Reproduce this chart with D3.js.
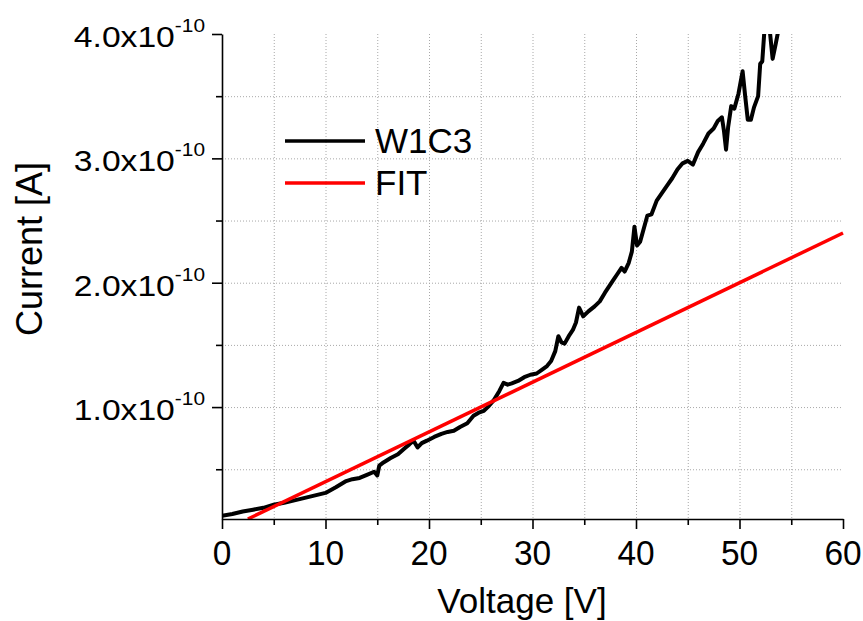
<!DOCTYPE html>
<html>
<head>
<meta charset="utf-8">
<script src="https://cdn.jsdelivr.net/npm/d3@7"></script>
<style>
  html, body { margin: 0; padding: 0; background: #fff; }
  svg { display: block; font-family: Arial, "Liberation Sans", Helvetica, sans-serif; }
</style>
</head>
<body>
<svg id="chart" width="863" height="621"></svg>
<script>
// Measured I-V sweep of device W1C3 (voltage in V, current in units of 1e-10 A)
const voltage = [0, 1, 2, 3, 4, 5, 6, 7, 8, 9, 10, 11, 12, 12.6, 13.3, 14, 14.7, 15.0, 15.2, 15.6,
  16.3, 17, 17.6, 18.1, 18.5, 18.9, 19.3, 19.8, 20.5, 21.2, 21.8, 22.4, 23.0, 23.7, 24.3, 24.8,
  25.3, 25.8, 26.3, 26.8, 27.2, 27.6, 28.0, 28.6, 29.2, 29.8, 30.4, 30.9, 31.4, 31.8, 32.2, 32.5,
  32.8, 33.1, 33.5, 33.9, 34.2, 34.5, 34.9, 35.4, 36.0, 36.5, 37.0, 37.4, 37.8, 38.2, 38.6, 38.9,
  39.3, 39.6, 39.85, 40.1, 40.4, 40.7, 41.1, 41.5, 42.0, 42.5, 43.0, 43.5, 44.0, 44.5, 45.0, 45.5,
  46.0, 46.5, 47.0, 47.5, 47.9, 48.3, 48.5, 48.7, 48.9, 49.2, 49.5, 49.9, 50.3, 50.55, 50.8, 51.1,
  51.4, 51.8, 52.0, 52.2, 52.4, 52.6, 52.9, 53.2, 53.5, 53.8];
const currentW1C3 = [0.125, 0.14, 0.16, 0.175, 0.19, 0.215, 0.23, 0.25, 0.27, 0.29, 0.31, 0.355, 0.405, 0.42, 0.43, 0.455, 0.48, 0.45, 0.53, 0.555,
  0.59, 0.62, 0.665, 0.70, 0.73, 0.675, 0.71, 0.73, 0.76, 0.785, 0.80, 0.81, 0.84, 0.87, 0.93, 0.955,
  0.97, 1.01, 1.06, 1.13, 1.195, 1.18, 1.19, 1.21, 1.24, 1.26, 1.27, 1.30, 1.33, 1.37, 1.45, 1.57,
  1.52, 1.51, 1.57, 1.62, 1.68, 1.80, 1.73, 1.77, 1.81, 1.85, 1.92, 1.97, 2.02, 2.07, 2.12, 2.09,
  2.16, 2.25, 2.45, 2.30, 2.33, 2.42, 2.54, 2.55, 2.66, 2.72, 2.78, 2.84, 2.91, 2.96, 2.98, 2.95,
  3.05, 3.12, 3.20, 3.24, 3.30, 3.33, 3.22, 3.07, 3.25, 3.42, 3.40, 3.52, 3.70, 3.50, 3.31, 3.31,
  3.41, 3.50, 3.76, 3.78, 4.02, 4.05, 4.05, 3.80, 3.92, 4.05];

// Linear fit I = 4.0e-12 * V
const fitVoltage = [2.5, 60];
const fitCurrent = [0.10, 2.40];

const seriesNames = ["W1C3", "FIT"];
const seriesColors = ["#000000", "#ff0000"];

const xMajorTicks = [0, 10, 20, 30, 40, 50, 60];
const xMinorTicks = [5, 15, 25, 35, 45, 55];
const yMajorTicks = [1.0, 2.0, 3.0, 4.0];
const yMinorTicks = [0.5, 1.5, 2.5, 3.5];
const yTickLabels = ["1.0x10", "2.0x10", "3.0x10", "4.0x10"];
const yTickExponent = "-10";

const xTitle = "Voltage [V]";
const yTitle = "Current [A]";

const svg = d3.select("#chart");
const plotLeft = 222, plotRight = 843, plotTop = 34, plotBottom = 519;

const x = d3.scaleLinear().domain([0, 60]).range([plotLeft, plotRight]);
const y = d3.scaleLinear().domain([0.1, 4.0]).range([plotBottom, plotTop]);

// dotted grid at every major and minor tick
const grid = svg.append("g").attr("stroke", "#a8a8a8").attr("stroke-width", 1)
  .attr("stroke-dasharray", "1,2").attr("fill", "none");
xMinorTicks.concat(xMajorTicks.filter(v => v > 0 && v < 60)).forEach(v => {
  grid.append("line").attr("x1", x(v) + 0.5).attr("x2", x(v) + 0.5).attr("y1", plotTop).attr("y2", plotBottom);
});
yMinorTicks.concat(yMajorTicks.filter(v => v < 4.0)).forEach(v => {
  grid.append("line").attr("x1", plotLeft).attr("x2", plotRight).attr("y1", y(v) + 0.5).attr("y2", y(v) + 0.5);
});

// clip region for the data lines
svg.append("defs").append("clipPath").attr("id", "plotClip")
  .append("rect").attr("x", plotLeft).attr("y", plotTop).attr("width", plotRight - plotLeft + 2).attr("height", plotBottom - plotTop);

const line = d3.line().x(d => x(d[0])).y(d => y(d[1]));

const plot = svg.append("g").attr("clip-path", "url(#plotClip)");
plot.append("path")
  .datum(voltage.map((v, i) => [v, currentW1C3[i]]))
  .attr("fill", "none").attr("stroke", seriesColors[0]).attr("stroke-width", 4)
  .attr("stroke-linejoin", "round").attr("d", line);
plot.append("path")
  .datum(fitVoltage.map((v, i) => [v, fitCurrent[i]]))
  .attr("fill", "none").attr("stroke", seriesColors[1]).attr("stroke-width", 3.5)
  .attr("d", line);

// x axis
const xAxisG = svg.append("g").attr("transform", `translate(0,${plotBottom})`)
  .call(d3.axisBottom(x).tickValues(xMajorTicks).tickSize(10).tickSizeOuter(0).tickFormat(d3.format("d")));
xAxisG.select(".domain").attr("stroke-width", 1.6);
xAxisG.selectAll(".tick line").attr("stroke-width", 1.6);
xAxisG.selectAll(".tick text").remove();
xAxisG.selectAll(".minor").data(xMinorTicks).enter().append("line")
  .attr("x1", d => x(d) + 0.5).attr("x2", d => x(d) + 0.5).attr("y1", 0).attr("y2", 6)
  .attr("stroke", "#000").attr("stroke-width", 1.6);
xMajorTicks.forEach(v => {
  svg.append("text")
    .attr("transform", `translate(${x(v)},565) scale(0.93,1)`)
    .attr("text-anchor", "middle").attr("font-size", 36).attr("fill", "#000")
    .text(v);
});

// y axis
const yAxisG = svg.append("g").attr("transform", `translate(${plotLeft},0)`)
  .call(d3.axisLeft(y).tickValues(yMajorTicks).tickSize(10).tickSizeOuter(0).tickFormat(() => ""));
yAxisG.select(".domain").attr("stroke-width", 1.6);
yAxisG.selectAll(".tick line").attr("stroke-width", 1.6);
yAxisG.selectAll(".minor").data(yMinorTicks).enter().append("line")
  .attr("x1", -6).attr("x2", 0).attr("y1", d => y(d) + 0.5).attr("y2", d => y(d) + 0.5)
  .attr("stroke", "#000").attr("stroke-width", 1.6);
yMajorTicks.forEach((v, i) => {
  const t = svg.append("text")
    .attr("transform", `translate(205,${y(v) + 13}) scale(1.16,1)`)
    .attr("text-anchor", "end").attr("fill", "#000").attr("font-size", 29);
  t.append("tspan").text(yTickLabels[i]);
  t.append("tspan").attr("font-size", 18).attr("dy", -15).text(yTickExponent);
});

// axis titles
svg.append("text").attr("x", 522).attr("y", 613).attr("text-anchor", "middle")
  .attr("font-size", 35).attr("fill", "#000").text(xTitle);
svg.append("text").attr("transform", "translate(42,249) rotate(-90)").attr("text-anchor", "middle")
  .attr("font-size", 36).attr("fill", "#000").text(yTitle);

// legend
const legend = svg.append("g");
seriesNames.forEach((name, i) => {
  const ly = 141 + i * 42;
  legend.append("line").attr("x1", 285).attr("x2", 365).attr("y1", ly).attr("y2", ly)
    .attr("stroke", seriesColors[i]).attr("stroke-width", 3.5);
  legend.append("text").attr("x", 375).attr("y", ly + 12).attr("font-size", 35)
    .attr("fill", "#000").text(name);
});
</script>
</body>
</html>
